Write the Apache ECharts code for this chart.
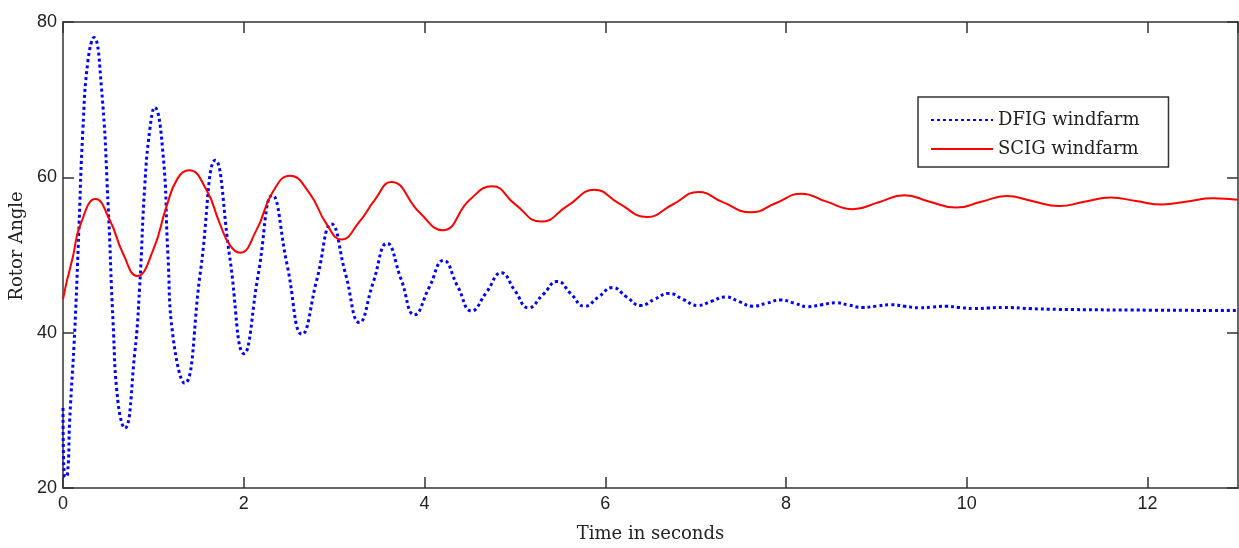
<!DOCTYPE html>
<html>
<head>
<meta charset="utf-8">
<script src="https://cdn.jsdelivr.net/npm/echarts@6/dist/echarts.min.js"></script>
<style>html,body{margin:0;padding:0;background:#fff}#chart{width:1239px;height:548px}</style>
</head>
<body>
<div id="chart"></div>
<script>
// DFIG windfarm (blue dotted) - time in s, rotor angle
const dfigT=[0,0.02,0.05,0.074,0.13,0.174,0.22,0.277,0.343,0.425,0.50,0.553,0.61,0.683,0.793,0.848,0.904,0.96,1.014,1.106,1.16,1.217,1.345,1.52,1.686,1.845,2.003,2.16,2.316,2.48,2.645,2.81,2.97,3.125,3.28,3.43,3.585,3.74,3.89,4.05,4.21,4.365,4.52,4.685,4.85,5.0,5.15,5.31,5.47,5.62,5.77,5.925,6.08,6.235,6.39,6.545,6.70,6.86,7.02,7.175,7.33,7.48,7.63,7.785,7.94,8.09,8.24,8.395,8.55,8.695,8.84,9.0,9.16,9.315,9.47,9.62,9.77,9.92,10.08,10.24,10.4,10.7,11.0,12.0,13.0];
const dfigV=[30.3,21.4,21.8,28.7,40.3,52.8,66.1,75.1,78.0,71.6,56.2,41.6,30.9,27.7,37.3,45.9,58.8,66.1,69.0,63.1,50.2,39.5,33.5,47.8,62.2,49.7,37.3,47.5,57.7,48.7,39.8,46.9,54.0,47.6,41.3,46.4,51.5,46.9,42.3,45.8,49.3,46.0,42.8,45.2,47.7,45.4,43.2,44.9,46.6,45.0,43.4,44.6,45.8,44.6,43.5,44.3,45.05,44.3,43.5,44.05,44.6,44.0,43.4,43.8,44.2,43.8,43.35,43.6,43.85,43.55,43.25,43.42,43.6,43.4,43.2,43.3,43.4,43.25,43.1,43.18,43.25,43.1,43.0,42.9,42.85];

// SCIG windfarm (red solid)
const scigT=[0,0.045,0.055,0.11,0.19,0.362,0.517,0.664,0.82,0.996,1.144,1.27,1.394,1.586,1.733,1.844,1.955,2.14,2.32,2.51,2.73,2.91,3.08,3.28,3.45,3.63,3.95,4.20,4.5,4.75,5.0,5.29,5.585,5.88,6.15,6.46,6.745,7.03,7.30,7.61,7.89,8.17,8.44,8.74,9.025,9.31,9.58,9.88,10.16,10.44,10.72,11.02,11.3,11.59,11.87,12.16,12.44,12.72,13.0];
const scigV=[44.3,46.8,47.2,49.8,53.8,57.2,54.5,50.2,47.3,50.6,56.2,59.9,60.9,58.4,54.1,51.3,50.3,53.2,58.1,60.2,57.9,54.1,52.0,54.3,57.1,59.4,55.4,53.2,57.1,58.85,56.55,54.3,56.35,58.4,56.65,54.9,56.5,58.1,56.8,55.5,56.7,57.9,56.9,55.9,56.8,57.7,56.9,56.1,56.85,57.6,56.95,56.3,56.85,57.4,56.95,56.5,56.9,57.3,57.1];

const xTicks={min:0,max:13,interval:2};
const yTicks={min:20,max:80,interval:20};

const serif='"DejaVu Serif", serif';
const sans='"Liberation Sans", Arial, sans-serif';
const axisCol='#333';
const zip=(t,v)=>t.map((x,i)=>[x,v[i]]);

const chart=echarts.init(document.getElementById('chart'));

function axis(extra){
  return Object.assign({type:'value',
    axisLine:{show:true,onZero:false,lineStyle:{color:axisCol,width:1.5}},
    axisTick:{show:true,inside:true,length:11,lineStyle:{color:axisCol,width:1.5}},
    splitLine:{show:false}},extra);
}

chart.setOption({
  backgroundColor:'#fff',
  animation:false,
  grid:{left:63,right:1,top:22,bottom:60,containLabel:false},
  xAxis:[
    axis({...xTicks,position:'bottom',name:'Time in seconds',nameLocation:'middle',nameGap:37,
      nameTextStyle:{fontFamily:serif,fontSize:18,color:'#222'},
      axisLabel:{fontFamily:sans,fontSize:18,color:'#222',margin:7,showMaxLabel:false}}),
    axis({...xTicks,position:'top',axisLabel:{show:false}})
  ],
  yAxis:[
    axis({...yTicks,position:'left',name:'Rotor Angle',nameLocation:'middle',nameGap:34,
      nameTextStyle:{fontFamily:serif,fontSize:18,color:'#222',padding:[0,0,0,18]},
      axisLabel:{fontFamily:sans,fontSize:18,color:'#222',margin:6}}),
    axis({...yTicks,position:'right',axisLabel:{show:false}})
  ],
  legend:{
    orient:'vertical',left:918,top:97,
    padding:[14,29,9,12],itemGap:11,itemWidth:62,itemHeight:14,
    borderColor:axisCol,borderWidth:1.5,backgroundColor:'#fff',
    itemStyle:{opacity:0},
    textStyle:{fontFamily:serif,fontSize:18,lineHeight:18,color:'#222'},
    data:['DFIG windfarm','SCIG windfarm']
  },
  series:[
    {name:'DFIG windfarm',type:'line',data:zip(dfigT,dfigV),smooth:true,symbol:'none',
      color:'#0000ff',lineStyle:{color:'#0000ff',width:3,type:[3,3]}},
    {name:'SCIG windfarm',type:'line',data:zip(scigT,scigV),smooth:true,symbol:'none',
      color:'#ff0000',lineStyle:{color:'#ff0000',width:2}}
  ]
});
</script>
</body>
</html>
